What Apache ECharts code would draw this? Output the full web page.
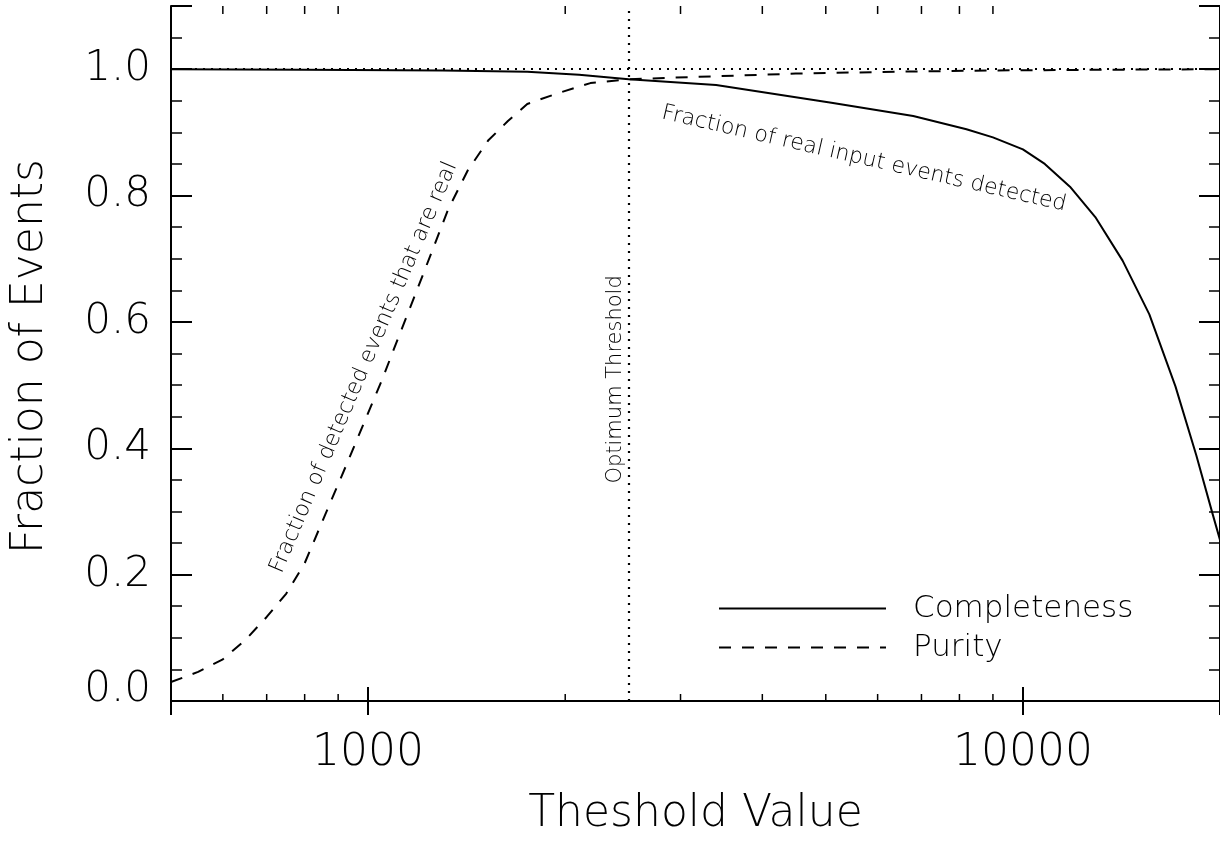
<!DOCTYPE html>
<html><head><meta charset="utf-8">
<script src="https://cdn.jsdelivr.net/npm/echarts@6/dist/echarts.min.js"></script>
<style>html,body{margin:0;padding:0;background:#fff;overflow:hidden}#c{width:1220px;height:842px}</style>
</head><body><div id="c"></div>
<script>
// ---- data ----
const thresholdC   = [500, 800, 1300, 1750, 2100, 2500, 3400, 5100, 6800, 8200, 9000, 10000, 10800, 11800, 12900, 14200, 15600, 17100, 18400, 19500, 20000];
const completeness = [1.000, 0.999, 0.998, 0.996, 0.991, 0.984, 0.975, 0.947, 0.926, 0.905, 0.892, 0.873, 0.850, 0.814, 0.766, 0.697, 0.612, 0.498, 0.389, 0.295, 0.255];
const thresholdP   = [500, 550, 600, 650, 700, 750, 800, 860, 925, 990, 1050, 1110, 1180, 1250, 1325, 1420, 1525, 1635, 1750, 1950, 2185, 2500, 3200, 4500, 6400, 9000, 13000, 20000];
const purity       = [0.030, 0.046, 0.066, 0.097, 0.133, 0.170, 0.218, 0.295, 0.372, 0.445, 0.508, 0.573, 0.643, 0.710, 0.778, 0.840, 0.887, 0.918, 0.945, 0.962, 0.978, 0.984, 0.988, 0.993, 0.996, 0.998, 0.999, 1.000];
const xMajorTicks  = [1000, 10000];
const xMinorTicks  = [600, 700, 800, 900, 2000, 3000, 4000, 5000, 6000, 7000, 8000, 9000];
const yTickLabels  = ['0.0', '0.2', '0.4', '0.6', '0.8', '1.0'];
const optimumThreshold = [2500];
const unityLevel   = [1.0];
const seriesNames  = ['Completeness', 'Purity'];
const axisTitles   = ['Theshold Value', 'Fraction of Events'];
const annotations  = [
  {text: 'Fraction of detected events that are real', at: [985, 0.528], angleDeg: 66.8, size: 22},
  {text: 'Fraction of real input events detected',    at: [5720, 0.858], angleDeg: -12.9, size: 22},
  {text: 'Optimum Threshold',                          at: [2390, 0.509], angleDeg: 90, size: 21}
];

// ---- chart ----
const FONT = "'DejaVu Sans', sans-serif";
const FW = 200;
const chart = echarts.init(document.getElementById('c'), null, {renderer: 'canvas'});

const xAxisCommon = {
  type: 'log', logBase: 10, min: 500, max: 20000,
  axisLine: {show: true, lineStyle: {color: '#000', width: 2}},
  axisTick: {show: true, inside: true, length: 14, lineStyle: {color: '#000', width: 2}},
  splitLine: {show: false}, minorTick: {show: false}
};
const yAxisCommon = {
  type: 'value', min: 0, max: 1.1, interval: 0.2,
  axisLine: {show: true, lineStyle: {color: '#000', width: 2}},
  axisTick: {show: true, inside: true, length: 21, lineStyle: {color: '#000', width: 2}},
  minorTick: {show: true, splitNumber: 4, length: 11, lineStyle: {color: '#000', width: 1.5}},
  splitLine: {show: false}, minorSplitLine: {show: false}
};

function isMajor(v) {
  return xMajorTicks.some(t => Math.abs(v - t) / t < 1e-6);
}

const option = {
  animation: false,
  backgroundColor: '#fff',
  grid: {left: 171, top: 6, width: 1057, height: 707, containLabel: false},
  xAxis: [
    Object.assign({}, xAxisCommon, {
      position: 'bottom',
      name: axisTitles[0], nameLocation: 'middle', nameGap: 92,
      nameTextStyle: {fontFamily: FONT, fontWeight: FW, fontSize: 44, color: '#000'},
      axisLabel: {
        show: true, margin: 31, fontFamily: FONT, fontWeight: FW, fontSize: 44, color: '#000',
        showMinLabel: false, showMaxLabel: false,
        formatter: v => isMajor(v) ? String(Math.round(v)) : ''
      }
    }),
    Object.assign({}, xAxisCommon, {position: 'top', axisLabel: {show: false}})
  ],
  yAxis: [
    Object.assign({}, yAxisCommon, {
      position: 'left',
      name: axisTitles[1], nameLocation: 'middle', nameGap: 118, nameRotate: 90,
      nameTextStyle: {fontFamily: FONT, fontWeight: FW, fontSize: 44, color: '#000', padding: [0, 6, 0, 0]},
      axisLabel: {
        show: true, margin: 20, fontFamily: FONT, fontWeight: FW, fontSize: 42, color: '#000',
        showMaxLabel: false,
        formatter: (v, i) => {
          const s = yTickLabels[i] || '';
          return i === 0 ? '{z|' + s + '}' : s;
        },
        rich: {z: {fontFamily: FONT, fontWeight: FW, fontSize: 42, color: '#000', padding: [0, 0, 22, 0]}}
      }
    }),
    Object.assign({}, yAxisCommon, {position: 'right', axisLabel: {show: false}})
  ],
  legend: {
    data: seriesNames,
    orient: 'vertical', left: 718, top: 593, padding: 0,
    itemWidth: 167, itemHeight: 14, itemGap: 8,
    itemStyle: {opacity: 0},
    textStyle: {fontFamily: FONT, fontWeight: FW, fontSize: 31, color: '#000', lineHeight: 31, padding: [0, 0, 0, 22]},
    selectedMode: false
  },
  series: [
    {
      name: seriesNames[0], type: 'line', xAxisIndex: 0, yAxisIndex: 0,
      data: thresholdC.map((x, i) => [x, completeness[i]]),
      symbol: 'none', smooth: false, clip: true,
      lineStyle: {color: '#000', width: 2, type: 'solid'},
      itemStyle: {color: '#000'},
      markLine: {
        silent: true, symbol: ['none', 'none'],
        label: {show: false},
        lineStyle: {color: '#000', width: 2.2, type: [2, 6]},
        data: [{yAxis: unityLevel[0]}, {xAxis: optimumThreshold[0]}]
      },
      z: 3
    },
    {
      name: seriesNames[1], type: 'line', xAxisIndex: 0, yAxisIndex: 0,
      data: thresholdP.map((x, i) => [x, purity[i]]),
      symbol: 'none', smooth: false, clip: true,
      lineStyle: {color: '#000', width: 2, type: [12, 11]},
      itemStyle: {color: '#000'},
      z: 3
    },
    {
      name: 'minorXTicks', type: 'custom', xAxisIndex: 0, yAxisIndex: 0,
      silent: true, clip: false,
      data: xMinorTicks.map(v => [v, 0]),
      renderItem: (params, api) => {
        const x = api.coord([api.value(0), 0])[0];
        const cs = params.coordSys;
        const yb = cs.y + cs.height, yt = cs.y;
        return {type: 'group', children: [
          {type: 'line', shape: {x1: x, y1: yb, x2: x, y2: yb - 7}, style: {stroke: '#000', lineWidth: 1.5}},
          {type: 'line', shape: {x1: x, y1: yt, x2: x, y2: yt + 8}, style: {stroke: '#000', lineWidth: 1.5}}
        ]};
      },
      z: 5
    }
  ]
};
chart.setOption(option);

const graphics = annotations.map(a => {
  const p = chart.convertToPixel({gridIndex: 0}, a.at);
  return {
    type: 'text', x: p[0], y: p[1], rotation: a.angleDeg * Math.PI / 180, silent: true, z: 10,
    style: {text: a.text, fontFamily: FONT, fontWeight: FW, fontSize: a.size, fill: '#000', align: 'center', verticalAlign: 'middle'}
  };
});
chart.setOption({graphic: graphics});
</script>
</body></html>
